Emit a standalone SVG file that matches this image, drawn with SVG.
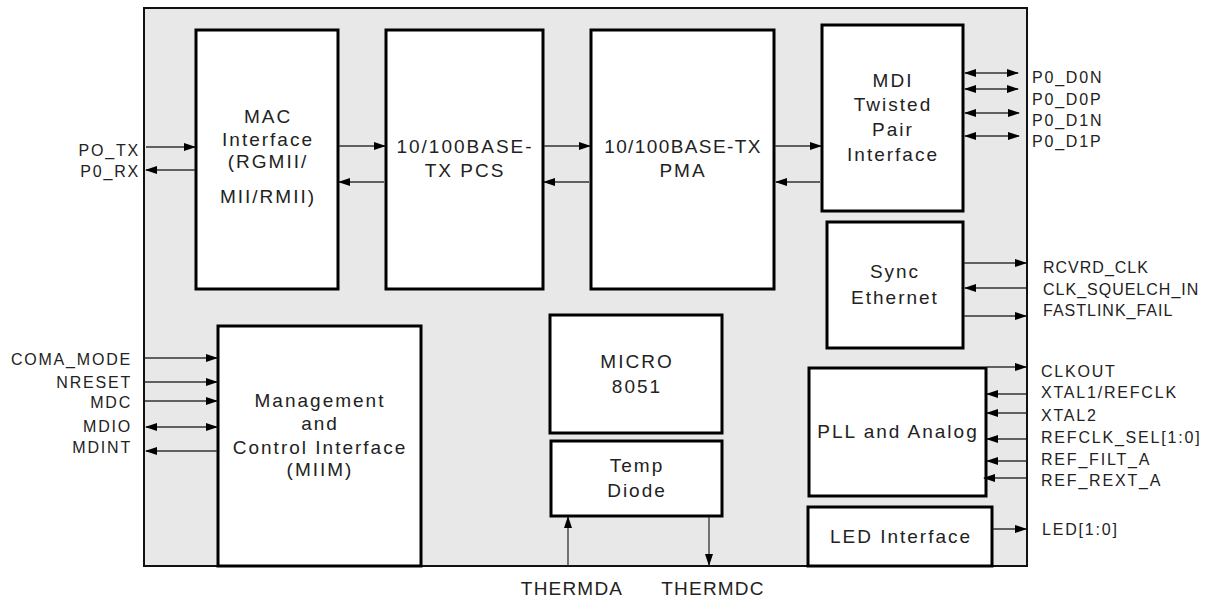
<svg xmlns="http://www.w3.org/2000/svg" width="1219" height="602" viewBox="0 0 1219 602">
<style>
.chip{fill:#e8e8e8;stroke:#111;stroke-width:2}
.blk{fill:#fff;stroke:#000;stroke-width:3}
.t{font-family:"Liberation Sans",Arial,sans-serif;font-size:19px;letter-spacing:2px;fill:#222;text-anchor:middle}
.p{font-family:"Liberation Sans",Arial,sans-serif;font-size:16px;letter-spacing:1.8px;fill:#222}
.pe{text-anchor:end}
.c line{stroke:#333;stroke-width:1.3;fill:none}
.a{marker-end:url(#ah)}
.d{marker-start:url(#ah);marker-end:url(#ah)}
</style>
<defs>
<marker id="ah" markerUnits="userSpaceOnUse" markerWidth="12" markerHeight="8" refX="11" refY="4" orient="auto-start-reverse" viewBox="0 0 12 8">
<path d="M0,0 L12,4 L0,8 z" fill="#000"/>
</marker>
</defs>
<rect class="chip" x="144" y="8" width="883" height="558"/>

<g id="mac"><rect class="blk" x="196" y="30" width="142" height="259"/>
<text class="t" x="268" y="123">MAC</text><text class="t" x="268" y="146">Interface</text><text class="t" x="268" y="168">(RGMII/</text><text class="t" x="268" y="203">MII/RMII)</text></g>
<g id="pcs"><rect class="blk" x="386" y="30" width="157" height="259"/>
<text class="t" x="465" y="153">10/100BASE-</text><text class="t" x="465" y="177">TX PCS</text></g>
<g id="pma"><rect class="blk" x="591" y="30" width="183" height="259"/>
<text class="t" x="683" y="153" style="letter-spacing:1.4px">10/100BASE-TX</text><text class="t" x="683" y="177">PMA</text></g>
<g id="mdi"><rect class="blk" x="822" y="25" width="141" height="186"/>
<text class="t" x="893" y="87">MDI</text><text class="t" x="893" y="111">Twisted</text><text class="t" x="893" y="136">Pair</text><text class="t" x="893" y="161">Interface</text></g>
<g id="sync"><rect class="blk" x="827" y="222" width="136" height="126"/>
<text class="t" x="895" y="278">Sync</text><text class="t" x="895" y="304">Ethernet</text></g>
<g id="pll"><rect class="blk" x="809" y="368" width="177" height="128"/>
<text class="t" x="898" y="438">PLL and Analog</text></g>
<g id="led"><rect class="blk" x="808" y="507" width="184" height="59"/>
<text class="t" x="901" y="543">LED Interface</text></g>
<g id="mgmt"><rect class="blk" x="218" y="326" width="203" height="240"/>
<text class="t" x="320" y="407">Management</text><text class="t" x="320" y="430">and</text><text class="t" x="320" y="454">Control Interface</text><text class="t" x="320" y="476">(MIIM)</text></g>
<g id="micro"><rect class="blk" x="550" y="315" width="172" height="118"/>
<text class="t" x="637" y="368">MICRO</text><text class="t" x="637" y="393">8051</text></g>
<g id="temp"><rect class="blk" x="551" y="441" width="171" height="75"/>
<text class="t" x="637" y="472">Temp</text><text class="t" x="637" y="497">Diode</text></g>

<g id="connectors" class="c">
<line class="a" x1="146" y1="147" x2="195" y2="147"/>
<line class="a" x1="195" y1="170" x2="146" y2="170"/>
<line class="a" x1="339" y1="146" x2="385" y2="146"/>
<line class="a" x1="384" y1="182" x2="339" y2="182"/>
<line class="a" x1="544" y1="146" x2="590" y2="146"/>
<line class="a" x1="589" y1="182" x2="544" y2="182"/>
<line class="a" x1="775" y1="146" x2="821" y2="146"/>
<line class="a" x1="820" y1="182" x2="776" y2="182"/>
<line class="d" x1="965" y1="73" x2="1018" y2="73"/>
<line class="d" x1="965" y1="89" x2="1018" y2="89"/>
<line class="d" x1="965" y1="113" x2="1019" y2="113"/>
<line class="d" x1="965" y1="136" x2="1019" y2="136"/>
<line class="a" x1="964" y1="263" x2="1026" y2="263"/>
<line class="a" x1="1026" y1="288" x2="965" y2="288"/>
<line class="a" x1="964" y1="316" x2="1026" y2="316"/>
<line class="a" x1="987" y1="367" x2="1026" y2="367"/>
<line class="a" x1="1026" y1="394" x2="987" y2="394"/>
<line class="a" x1="1026" y1="413" x2="987" y2="413"/>
<line class="a" x1="1026" y1="439" x2="987" y2="439"/>
<line class="a" x1="1026" y1="461" x2="987" y2="461"/>
<line class="a" x1="1026" y1="478" x2="984" y2="478"/>
<line class="a" x1="993" y1="529" x2="1026" y2="529"/>
<line class="a" x1="145" y1="358" x2="217" y2="358"/>
<line class="a" x1="145" y1="382" x2="217" y2="382"/>
<line class="a" x1="145" y1="401" x2="217" y2="401"/>
<line class="d" x1="146" y1="427" x2="217" y2="427"/>
<line class="a" x1="217" y1="451" x2="146" y2="451"/>
<line class="a" x1="568" y1="566" x2="568" y2="517"/>
<line class="a" x1="709" y1="517" x2="709" y2="565"/>
</g>

<g id="labels">
<text class="p pe" x="140" y="156">PO_TX</text>
<text class="p pe" x="140" y="177">P0_RX</text>
<text class="p pe" x="132" y="365">COMA_MODE</text>
<text class="p pe" x="132" y="388">NRESET</text>
<text class="p pe" x="132" y="408">MDC</text>
<text class="p pe" x="132" y="432">MDIO</text>
<text class="p pe" x="132" y="453">MDINT</text>
<text class="p" x="1032" y="83">P0_D0N</text>
<text class="p" x="1032" y="105">P0_D0P</text>
<text class="p" x="1032" y="126">P0_D1N</text>
<text class="p" x="1032" y="147">P0_D1P</text>
<text class="p" x="1043" y="273" style="letter-spacing:1px">RCVRD_CLK</text>
<text class="p" x="1043" y="295" style="letter-spacing:1px">CLK_SQUELCH_IN</text>
<text class="p" x="1043" y="316" style="letter-spacing:1px">FASTLINK_FAIL</text>
<text class="p" x="1041" y="377">CLKOUT</text>
<text class="p" x="1041" y="398">XTAL1/REFCLK</text>
<text class="p" x="1041" y="421">XTAL2</text>
<text class="p" x="1041" y="443">REFCLK_SEL[1:0]</text>
<text class="p" x="1041" y="465">REF_FILT_A</text>
<text class="p" x="1041" y="486">REF_REXT_A</text>
<text class="p" x="1042" y="535">LED[1:0]</text>
<text class="t" x="572" y="595" style="letter-spacing:1.2px">THERMDA</text>
<text class="t" x="713" y="595" style="letter-spacing:1.2px">THERMDC</text>
</g>
</svg>
